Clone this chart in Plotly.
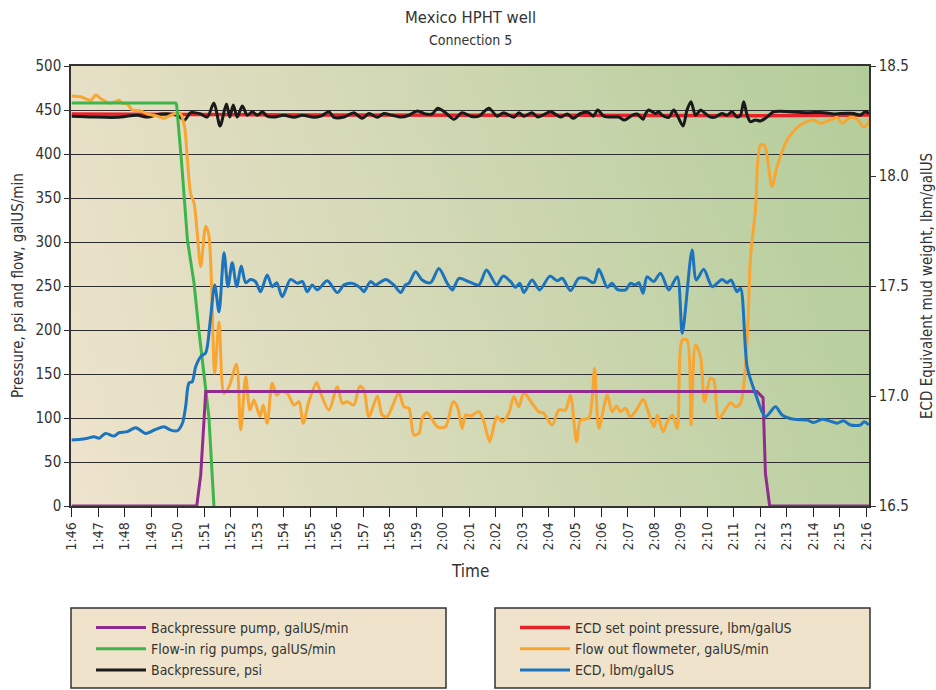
import zlib, struct, base64
import numpy as np
import pandas as pd
import plotly.graph_objects as go

# ---------------- data (time = minutes after 1:46) ----------------
bp_pump_t = [0.00, 4.72, 4.87, 5.06, 25.87, 26.10, 26.19, 26.35, 30.10]
bp_pump_v = [0, 0, 35, 130, 130, 123, 37, 0, 0]

flow_in_t = [0.00, 3.92, 3.96, 4.15, 4.37, 4.62, 4.80, 4.99, 5.18, 5.37]
flow_in_v = [458, 458, 456, 390, 302, 253, 200, 151, 101, 0]

backp_t = [0.00, 0.84, 1.72, 2.48, 2.86, 3.36, 3.99, 4.26, 4.49, 4.87, 5.12, 5.37, 5.60,
           5.84, 5.97, 6.10, 6.25, 6.44, 6.63, 6.82, 7.01, 7.20, 7.38, 7.63, 8.01, 8.39,
           8.71, 9.14, 9.40, 9.71, 9.90, 10.28, 10.65, 10.97, 11.22, 11.54, 11.78, 12.10,
           12.42, 12.73, 13.05, 13.36, 13.61, 13.82, 14.11, 14.43, 14.74, 15.06, 15.37,
           15.75, 16.06, 16.31, 16.69, 16.88, 17.07, 17.38, 17.60, 18.08, 18.45, 18.71,
           18.93, 19.21, 19.52, 19.69, 19.86, 20.09, 20.46, 20.65, 20.87, 21.16, 21.35,
           21.57, 21.66, 21.78, 22.04, 22.16, 22.29, 22.54, 22.73, 22.86, 23.08, 23.23,
           23.38, 23.55, 23.74, 23.92, 24.11, 24.30, 24.55, 24.74, 24.93, 25.12, 25.25,
           25.37, 25.50, 25.62, 25.81, 26.00, 26.25, 26.50, 27.13, 27.76, 28.39, 28.77,
           29.02, 29.52, 29.77, 29.96, 30.10]
backp_v = [443, 442, 441.7, 444, 442, 445.5, 444, 438.6, 447, 445.5, 442, 458, 431.8,
           456.8, 442, 455.7, 442, 454.5, 444, 448, 444, 448, 443, 442, 444, 441.7,
           444, 441.7, 443, 448, 441.7, 442, 447, 440.5, 446, 441.7, 446, 444,
           442, 444, 449, 445.5, 445.5, 452, 447, 439.4, 447, 443, 443,
           452, 443, 447, 441.7, 447, 443, 447, 442, 448, 442, 445.5,
           440.5, 446, 447, 443, 450, 443, 442, 442, 438.6, 444, 445.5,
           439.4, 445.5, 450, 446, 448, 444, 441.7, 450, 444, 431.8, 450,
           459.5, 444, 450, 446, 442, 442, 446, 444, 448, 442, 444,
           459.5, 444, 436.7, 438.6, 437.5, 442, 448, 448, 447, 447, 445.5,
           446, 446, 444, 448, 446]

# ECD set point, read against the left-hand scale
ecd_set_t = [0.00, 9.00, 19.00, 26.00, 30.10]
ecd_set_v = [445.5, 444.3, 444.0, 443.5, 444.3]

flow_out_t = [0.00, 0.34, 0.72, 0.91, 1.09, 1.41, 1.66, 1.78, 1.91, 2.10, 2.29, 2.60, 2.86,
              3.23, 3.48, 3.67, 3.92, 4.11, 4.26, 4.37, 4.49, 4.62, 4.74, 4.87, 5.06, 5.18,
              5.40, 5.56, 5.75, 5.94, 6.22, 6.38, 6.57, 6.73, 6.88, 7.11, 7.23, 7.38, 7.57,
              7.74, 7.89, 8.14, 8.39, 8.58, 8.74, 8.95, 9.25, 9.40, 9.71, 10.03, 10.22,
              10.40, 10.65, 10.87, 11.03, 11.22, 11.54, 11.72, 11.91, 12.10, 12.35, 12.54,
              12.73, 12.92, 13.11, 13.23, 13.42, 13.80, 14.11, 14.40, 14.56, 14.74, 14.87,
              15.06, 15.37, 15.56, 15.78, 15.96, 16.06, 16.25, 16.50, 16.69, 16.88, 17.07,
              17.38, 17.63, 17.82, 18.14, 18.39, 18.64, 18.83, 19.06, 19.21, 19.52, 19.74,
              19.90, 20.22, 20.40, 20.57, 20.72, 20.91, 21.09, 21.28, 21.57, 21.66, 21.98,
              22.11, 22.33, 22.49, 22.68, 22.86, 23.05, 23.23, 23.38, 23.55, 23.74, 23.89,
              24.11, 24.24, 24.43, 24.87, 25.06, 25.25, 25.50, 25.62, 25.81, 26.00, 26.15,
              26.44, 26.63, 27.01, 27.51, 28.01, 28.26, 28.64, 28.89, 29.08, 29.40, 29.65,
              29.88, 30.03, 30.13]
flow_out_v = [466, 465, 461, 467, 463, 458, 459.5, 461, 457.6, 456.8, 450, 449, 445.5,
              443, 440.5, 443, 446, 445.5, 431, 393, 355, 344, 310, 272, 318, 308,
              151, 209, 128, 135.6, 161, 86.4, 147, 109, 120.5, 101.5, 114.8, 94, 139.4,
              126, 130, 128, 114.8, 118.5, 94, 118.5, 140, 128, 109, 135.6, 116.7,
              118.5, 114.8, 136, 131.8, 101.5, 125, 103.4, 101.5, 112.8, 128.8, 112.8,
              111, 80.7, 82.6, 99.6, 106, 90, 90, 118.5, 112.8, 88.3, 103.4,
              102.3, 107.2, 95.8, 73, 94, 101.5, 95.8, 105.3, 124.2, 112.8, 128.8,
              116.7, 107.2, 105.3, 92, 109, 109, 126, 73, 97.7, 99.6, 156.5,
              88.3, 126, 107.2, 113.6, 107.2, 111, 101.5, 107.2, 121.2, 116.7, 90,
              103.4, 84.5, 95.8, 103.4, 88.3, 188.6, 188.6, 92, 183, 169.7, 118.5,
              145, 143, 99.6, 117.4, 112.8, 116.7, 188.6, 279.5, 336, 410, 410,
              363, 385.6, 416, 433, 438.6, 435, 438.6, 441.7, 435, 441.7, 439.4,
              431, 433, 440.5]

ecd_t = [0.00, 0.34, 0.59, 0.84, 1.03, 1.28, 1.60, 1.78, 2.10, 2.42, 2.79, 3.17, 3.48,
         3.74, 3.99, 4.18, 4.30, 4.43, 4.55, 4.68, 4.87, 5.06, 5.22, 5.40, 5.56, 5.75,
         5.90, 6.06, 6.23, 6.40, 6.57, 6.75, 6.94, 7.13, 7.38, 7.57, 7.74, 7.95, 8.26,
         8.52, 8.71, 8.89, 9.08, 9.27, 9.65, 10.03, 10.28, 10.59, 10.91, 11.03, 11.28,
         11.47, 11.85, 12.16, 12.42, 12.60, 12.73, 12.98, 13.23, 13.55, 13.86, 14.18,
         14.37, 14.62, 14.99, 15.37, 15.66, 16.04, 16.29, 16.57, 16.75, 16.92, 17.07,
         17.38, 17.67, 18.05, 18.33, 18.52, 18.83, 19.14, 19.40, 19.71, 19.90, 20.22,
         20.40, 20.59, 20.91, 21.09, 21.28, 21.41, 21.57, 21.72, 21.97, 22.23, 22.54,
         22.86, 23.05, 23.42, 23.58, 23.86, 24.18, 24.55, 24.74, 24.89, 25.12, 25.25,
         25.50, 25.81, 26.19, 26.57, 26.82, 27.26, 27.76, 28.01, 28.33, 28.71, 28.90,
         29.14, 29.40, 29.77, 29.92, 30.09]
ecd_v = [16.800, 16.803, 16.808, 16.815, 16.808, 16.830, 16.818, 16.833, 16.838, 16.856,
         16.830, 16.848, 16.860, 16.845, 16.842, 16.876, 16.951, 17.060, 17.065, 17.133,
         17.179, 17.197, 17.330, 17.505, 17.383, 17.651, 17.497, 17.606, 17.497, 17.591,
         17.515, 17.530, 17.520, 17.474, 17.550, 17.497, 17.515, 17.451, 17.530, 17.512,
         17.520, 17.474, 17.505, 17.482, 17.524, 17.470, 17.505, 17.512, 17.490, 17.474,
         17.520, 17.505, 17.530, 17.505, 17.470, 17.505, 17.512, 17.565, 17.527, 17.515,
         17.580, 17.512, 17.482, 17.535, 17.520, 17.505, 17.573, 17.505, 17.545, 17.520,
         17.494, 17.512, 17.470, 17.527, 17.482, 17.545, 17.524, 17.535, 17.479, 17.535,
         17.535, 17.515, 17.576, 17.494, 17.512, 17.485, 17.482, 17.512, 17.505, 17.515,
         17.467, 17.542, 17.520, 17.558, 17.482, 17.542, 17.285, 17.664, 17.527, 17.576,
         17.497, 17.530, 17.515, 17.527, 17.474, 17.490, 17.133, 17.012, 16.906, 16.951,
         16.914, 16.894, 16.891, 16.879, 16.894, 16.883, 16.876, 16.888, 16.868, 16.868,
         16.883, 16.868]

right_tick_vals = [16.5, 17.0, 17.5, 18.0, 18.5]

# ---------------- helpers ----------------
BASE = pd.Timestamp("2000-01-01 01:46:00")


def to_time(mins):
    return BASE + pd.to_timedelta(np.asarray(mins, dtype=float), unit="min")


def gradient_png(w, h):
    c0 = np.array([239, 227, 205], dtype=float)
    c1 = np.array([179, 205, 154], dtype=float)
    raw = bytearray()
    for j in range(h):
        v = j / (h - 1)
        raw.append(0)
        for i in range(w):
            u = i / (w - 1)
            t = min(max(0.85 * u + 0.15 * (1 - v), 0.0), 1.0)
            c = c0 + (c1 - c0) * t
            raw.extend(int(round(k)) for k in c)

    def chunk(tag, data):
        return (struct.pack(">I", len(data)) + tag + data
                + struct.pack(">I", zlib.crc32(tag + data) & 0xFFFFFFFF))

    png = (b"\x89PNG\r\n\x1a\n"
           + chunk(b"IHDR", struct.pack(">IIBBBBB", w, h, 8, 2, 0, 0, 0))
           + chunk(b"IDAT", zlib.compress(bytes(raw), 9))
           + chunk(b"IEND", b""))
    return "data:image/png;base64," + base64.b64encode(png).decode()


FONT = "DejaVu Sans Condensed, Liberation Sans Narrow, sans-serif"
TXT = "#333333"

fig = go.Figure()

fig.add_trace(go.Scatter(x=to_time(ecd_set_t), y=ecd_set_v, mode="lines",
                         name="ECD set point pressure, lbm/galUS", legend="legend2", legendrank=1,
                         line=dict(color="#E8212B", width=3.5)))
fig.add_trace(go.Scatter(x=to_time(backp_t), y=backp_v, mode="lines",
                         name="Backpressure, psi", legend="legend", legendrank=3,
                         line=dict(color="#1A1A1A", width=3, shape="spline", smoothing=0.8)))
fig.add_trace(go.Scatter(x=to_time(flow_out_t), y=flow_out_v, mode="lines",
                         name="Flow out flowmeter, galUS/min", legend="legend2", legendrank=2,
                         line=dict(color="#F9A532", width=3, shape="spline", smoothing=0.8)))
fig.add_trace(go.Scatter(x=to_time(flow_in_t), y=flow_in_v, mode="lines",
                         name="Flow-in rig pumps, galUS/min", legend="legend", legendrank=2,
                         line=dict(color="#3DB54A", width=3)))
fig.add_trace(go.Scatter(x=to_time(bp_pump_t), y=bp_pump_v, mode="lines",
                         name="Backpressure pump, galUS/min", legend="legend", legendrank=1,
                         line=dict(color="#912C8F", width=3)))
fig.add_trace(go.Scatter(x=to_time(ecd_t), y=ecd_v, mode="lines", yaxis="y2",
                         name="ECD, lbm/galUS", legend="legend2", legendrank=3,
                         line=dict(color="#1D74BE", width=3, shape="spline", smoothing=0.8)))

legend_common = dict(xref="container", yref="container", xanchor="left", yanchor="top",
                     bgcolor="rgba(0,0,0,0)", borderwidth=0, itemwidth=50,
                     font=dict(size=14, color=TXT, family=FONT), tracegroupgap=0)

fig.update_layout(
    width=936, height=690,
    margin=dict(l=71, r=67, t=66, b=184, autoexpand=False),
    paper_bgcolor="white", plot_bgcolor="#E0DDC0",
    font=dict(family=FONT, color=TXT, size=14),
    showlegend=True,
    xaxis=dict(
        type="date",
        range=[BASE - pd.Timedelta(seconds=1.6), BASE + pd.Timedelta(minutes=30, seconds=6)],
        tick0=BASE, dtick=60000, tickformat="%-H:%M", tickangle=-90,
        ticks="outside", ticklen=9, tickwidth=1.3, tickcolor="#222",
        showline=True, linecolor="#333", linewidth=1.5, mirror=True,
        showgrid=False, zeroline=False, tickfont=dict(size=14, color=TXT),
    ),
    yaxis=dict(
        range=[0, 500], dtick=50, ticks="outside", ticklen=5, tickcolor="#333",
        showline=True, linecolor="#333", linewidth=1.5,
        showgrid=True, gridcolor="#2E2E2E", gridwidth=1.3, zeroline=False,
        tickfont=dict(size=15, color=TXT),
    ),
    yaxis2=dict(
        range=[16.5, 18.5], tickvals=right_tick_vals, tickformat=".1f",
        overlaying="y", side="right", ticks="outside", ticklen=5, tickcolor="#333",
        showline=True, linecolor="#333", linewidth=1.5, showgrid=False, zeroline=False,
        tickfont=dict(size=15, color=TXT),
    ),
    images=[dict(source=gradient_png(160, 80), xref="paper", yref="paper",
                 x=0, y=1, sizex=1, sizey=1, xanchor="left", yanchor="top",
                 sizing="stretch", layer="below")],
    shapes=[
        dict(type="rect", xref="paper", yref="paper", x0=0.0, x1=(446 - 71) / 798,
             y0=(506 - 608) / 440, y1=(506 - 688) / 440,
             fillcolor="#EFE3CC", line=dict(color="#333", width=1.5), layer="below"),
        dict(type="rect", xref="paper", yref="paper", x0=(495 - 71) / 798, x1=(870 - 71) / 798,
             y0=(506 - 608) / 440, y1=(506 - 688) / 440,
             fillcolor="#EFE3CC", line=dict(color="#333", width=1.5), layer="below"),
    ],
    legend=dict(x=91 / 936, y=1 - 612 / 690, **legend_common),
    legend2=dict(x=515 / 936, y=1 - 612 / 690, **legend_common),
    annotations=[
        dict(text="Mexico HPHT well", xref="paper", yref="paper", x=0.5, y=(506 - 17) / 440,
             showarrow=False, font=dict(size=16.5, color=TXT), xanchor="center", yanchor="middle"),
        dict(text="Connection 5", xref="paper", yref="paper", x=0.5, y=(506 - 40) / 440,
             showarrow=False, font=dict(size=14, color=TXT), xanchor="center", yanchor="middle"),
        dict(text="Time", xref="paper", yref="paper", x=0.5, y=(506 - 571) / 440,
             showarrow=False, font=dict(size=17, color=TXT), xanchor="center", yanchor="middle"),
        dict(text="Pressure, psi and flow, galUS/min", xref="paper", yref="paper",
             x=(18 - 71) / 798, y=0.5, textangle=-90, showarrow=False,
             font=dict(size=15, color=TXT), xanchor="center", yanchor="middle"),
        dict(text="ECD Equivalent mud weight, lbm/galUS", xref="paper", yref="paper",
             x=(927 - 71) / 798, y=0.5, textangle=-90, showarrow=False,
             font=dict(size=15, color=TXT), xanchor="center", yanchor="middle"),
    ],
)

fig.write_html("out.html")
